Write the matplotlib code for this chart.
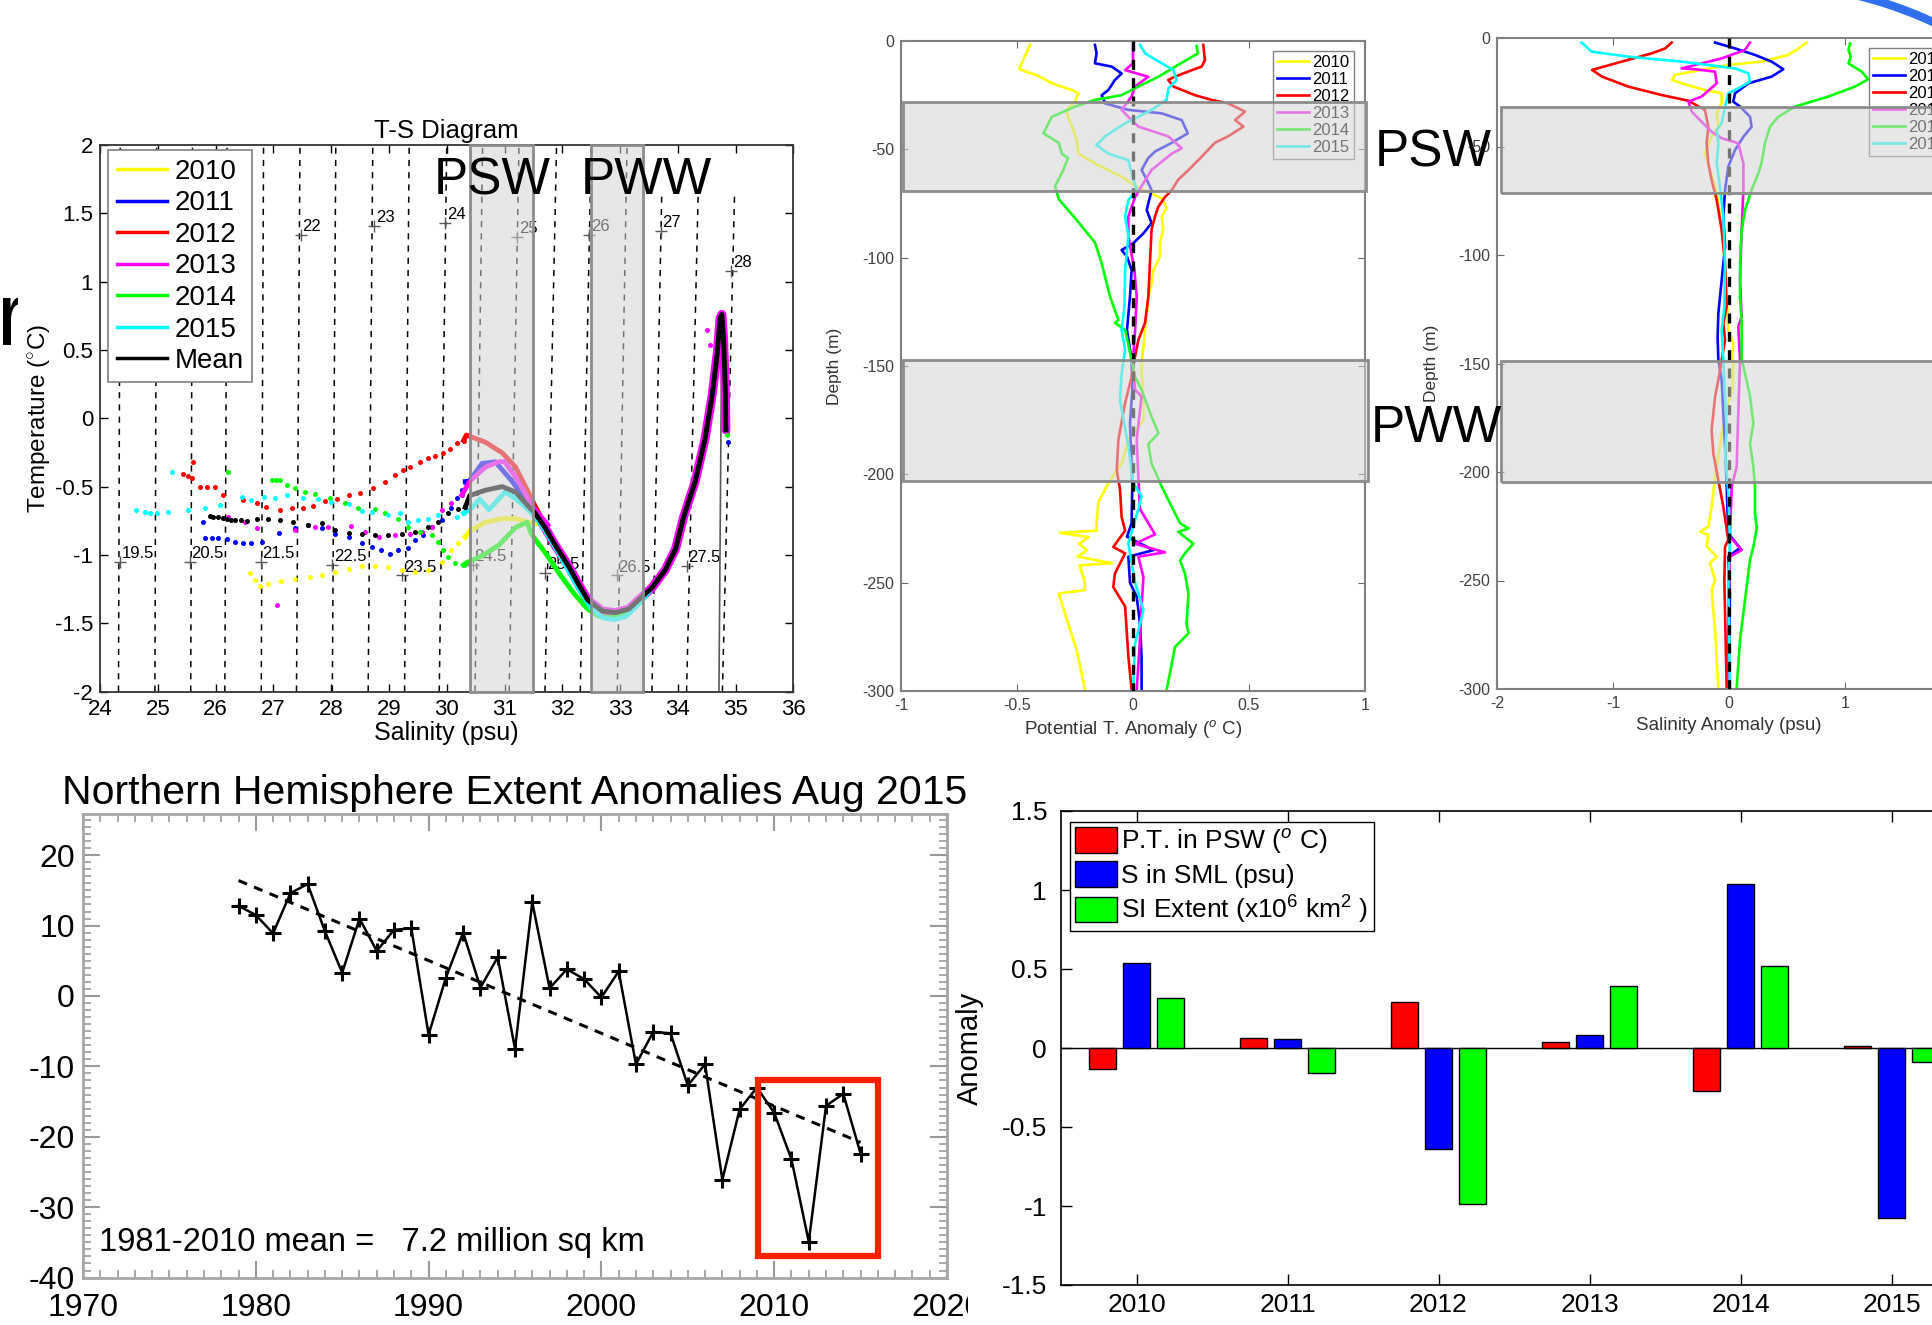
import numpy as np
import matplotlib
matplotlib.use("Agg")
import matplotlib.pyplot as plt
from matplotlib.patches import Rectangle, Arc
from matplotlib.lines import Line2D
from matplotlib.ticker import FuncFormatter, MultipleLocator

plt.rcParams['font.family'] = ['Liberation Sans', 'DejaVu Sans']
plt.rcParams['axes.unicode_minus'] = False
plt.rcParams['mathtext.fontset'] = 'custom'
plt.rcParams['mathtext.rm'] = 'Liberation Sans'
plt.rcParams['mathtext.it'] = 'Liberation Sans:italic'

W, H = 1933, 1325

# ---------------- data ----------------
years = ['2010', '2011', '2012', '2013', '2014', '2015']
yr_colors = ['#ffff00', '#0000ff', '#ff0000', '#ff00ff', '#00ff00', '#00ffff']

# T-S diagram: shallow dots (S, T)
ts10_dots = [(26.6, -1.13), (26.68, -1.183), (26.77, -1.227), (26.91, -1.212), (27.14, -1.188), (27.37, -1.178),
             (27.63, -1.164), (27.84, -1.147), (28.07, -1.122), (28.3, -1.105), (28.53, -1.081), (28.76, -1.081),
             (28.99, -1.091), (29.22, -1.11), (29.45, -1.122), (29.68, -1.11), (29.91, -1.049), (30.08, -0.964),
             (30.2, -0.915), (30.32, -0.866)]
ts11_dots = [(25.79, -0.756), (25.82, -0.878), (25.93, -0.878), (26.05, -0.873), (26.19, -0.886), (26.34, -0.903),
             (26.48, -0.915), (26.62, -0.91), (26.8, -0.903), (27.09, -0.837), (27.37, -0.805), (27.6, -0.781),
             (27.84, -0.805), (28.07, -0.846), (28.3, -0.866), (28.53, -0.915), (28.7, -0.939), (28.87, -0.964),
             (29.02, -0.993), (29.16, -0.964), (29.33, -0.952), (29.45, -0.891), (29.59, -0.854), (29.74, -0.793),
             (29.91, -0.744), (30.08, -0.659), (30.17, -0.585), (30.26, -0.524), (30.32, -0.463), (34.86, -0.17)]
ts12_dots = [(25.61, -0.317), (25.44, -0.41), (25.52, -0.425), (25.59, -0.44), (25.73, -0.5), (25.85, -0.505),
             (25.99, -0.5), (26.13, -0.56), (26.48, -0.598), (26.71, -0.617), (26.88, -0.646), (27.11, -0.671),
             (27.32, -0.658), (27.52, -0.654), (27.69, -0.641), (27.89, -0.603), (28.1, -0.593), (28.3, -0.561),
             (28.5, -0.544), (28.73, -0.512), (28.93, -0.463), (29.1, -0.415), (29.25, -0.378), (29.36, -0.354),
             (29.54, -0.317), (29.68, -0.293), (29.8, -0.275), (29.94, -0.251), (30.06, -0.226), (30.17, -0.183),
             (30.29, -0.163)]
ts13_dots = [(26.22, -0.724), (26.51, -0.756), (26.71, -0.805), (27.37, -0.817), (27.72, -0.793), (27.95, -0.793),
             (28.35, -0.788), (28.58, -0.83), (28.82, -0.866), (29.1, -0.854), (29.36, -0.846), (29.57, -0.83),
             (29.74, -0.793), (29.91, -0.671), (30.08, -0.622), (30.26, -0.561), (27.06, -1.366), (34.5, 0.643),
             (34.56, 0.539)]
ts14_dots = [(26.22, -0.39), (26.97, -0.451), (27.04, -0.451), (27.11, -0.451), (27.23, -0.488), (27.37, -0.512),
             (27.55, -0.537), (27.72, -0.554), (27.98, -0.585), (28.24, -0.622), (28.47, -0.658), (28.76, -0.666),
             (28.93, -0.695), (29.16, -0.739), (29.33, -0.793), (29.54, -0.83), (29.74, -0.854), (29.85, -0.903),
             (29.94, -0.964), (30.03, -1.013), (30.14, -1.057), (30.29, -1.074), (34.85, -0.12)]
ts15_dots = [(24.63, -0.671), (24.78, -0.683), (24.87, -0.695), (24.98, -0.695), (25.18, -0.683), (25.24, -0.39),
             (25.53, -0.671), (25.82, -0.66), (26.08, -0.634), (26.45, -0.578), (26.62, -0.598), (26.83, -0.573),
             (27.03, -0.585), (27.23, -0.561), (27.52, -0.585), (27.78, -0.593), (28.0, -0.61), (28.3, -0.627),
             (28.53, -0.676), (28.7, -0.683), (28.99, -0.708), (29.19, -0.695), (29.33, -0.756), (29.51, -0.744),
             (29.68, -0.739), (29.85, -0.708), (30.03, -0.695), (30.17, -0.72), (30.29, -0.695)]
ts_mean_dots = [(25.9, -0.715), (25.95, -0.72), (26.05, -0.724), (26.12, -0.73), (26.19, -0.739), (26.27, -0.742),
                (26.34, -0.744), (26.44, -0.746), (26.54, -0.749), (26.71, -0.739), (26.91, -0.739), (27.11, -0.744),
                (27.34, -0.756), (27.6, -0.781), (27.84, -0.769), (28.07, -0.818), (28.3, -0.837), (28.53, -0.846),
                (28.76, -0.854), (28.99, -0.854), (29.22, -0.846), (29.45, -0.83), (29.68, -0.793), (29.85, -0.756),
                (30.03, -0.695), (30.2, -0.666), (30.32, -0.651)]

# T-S diagram: dense (line) parts
ts10_line = [(30.32, -0.866), (30.4, -0.825), (30.67, -0.76), (30.96, -0.734), (31.19, -0.734), (31.41, -0.76),
             (31.53, -0.77)]
ts11_line = [(30.32, -0.463), (30.39, -0.46), (30.61, -0.331), (30.84, -0.318), (31.13, -0.461), (31.41, -0.62),
             (31.53, -0.69)]
ts12_line = [(30.29, -0.163), (30.34, -0.123), (30.67, -0.175), (30.96, -0.253), (31.19, -0.357), (31.41, -0.539),
             (31.53, -0.643), (31.7, -0.78)]
ts13_line = [(30.26, -0.561), (30.4, -0.46), (30.67, -0.357), (30.9, -0.318), (31.0, -0.318), (31.2, -0.435),
             (31.41, -0.59), (31.53, -0.67), (31.75, -0.78)]
ts14_line = [(30.29, -1.074), (30.34, -1.058), (30.61, -1.006), (30.9, -0.929), (31.19, -0.799), (31.39, -0.76),
             (31.47, -0.851), (31.7, -0.981), (31.99, -1.162), (32.22, -1.292), (32.44, -1.396), (32.63, -1.448),
             (32.85, -1.46), (33.1, -1.42), (33.35, -1.33)]
ts15_line = [(30.29, -0.695), (30.4, -0.669), (30.57, -0.591), (30.73, -0.669), (31.01, -0.539), (31.2, -0.591),
             (31.41, -0.669), (31.53, -0.72), (31.7, -0.82), (31.9, -0.96), (32.1, -1.11), (32.3, -1.26),
             (32.5, -1.39), (32.7, -1.46), (32.9, -1.474), (33.1, -1.45), (33.3, -1.37), (33.5, -1.27)]
ts_mean_line = [(30.32, -0.651), (30.4, -0.565), (30.67, -0.526), (30.96, -0.5), (31.19, -0.539), (31.41, -0.643)]
ts_deep = [(31.41, -0.643), (31.53, -0.695), (31.7, -0.8), (31.88, -0.93), (32.11, -1.084), (32.28, -1.214),
           (32.44, -1.33), (32.69, -1.41), (32.92, -1.422), (33.15, -1.396), (33.35, -1.318), (33.55, -1.24),
           (33.78, -1.11), (33.96, -0.955), (34.1, -0.72), (34.3, -0.46), (34.47, -0.149), (34.59, 0.162),
           (34.68, 0.474), (34.73, 0.734), (34.76, 0.76), (34.79, 0.578), (34.82, 0.214), (34.83, -0.084)]
ts_bottom_line = [(34.76, 0.76), (34.71, -2.0)]

# isopycnals
iso_sigma = [19.5, 20, 20.5, 21, 21.5, 22, 22.5, 23, 23.5, 24, 24.5, 25, 25.5, 26, 26.5, 27, 27.5, 28]
iso_s_bottom = [24.32, 24.95, 25.57, 26.16, 26.79, 27.4, 28.02, 28.64, 29.27, 29.87, 30.49, 31.08, 31.7, 32.31,
                32.95, 33.55, 34.15, 34.77]
iso_s_top = [24.35, 24.98, 25.6, 26.2, 26.83, 27.46, 28.08, 28.72, 29.35, 30.0, 30.62, 31.25, 31.9, 32.5, 33.12,
             33.72, 34.35, 34.98]
iso_t_top = [2, 2, 2, 2, 2, 2, 2, 2, 2, 2, 2, 2, 2, 2, 2, 1.64, 1.64, 1.64]
lbl_sigma = ['19.5', '20.5', '21.5', '22.5', '23.5', '24.5', '25.5', '26.5', '27.5', '22', '23', '24', '25', '26',
             '27', '28']
lbl_s = [24.34, 25.55, 26.78, 28.02, 29.23, 30.45, 31.7, 32.94, 34.15, 27.47, 28.74, 29.97, 31.22, 32.47, 33.7, 34.92]
lbl_t = [-1.05, -1.05, -1.05, -1.07, -1.15, -1.07, -1.13, -1.15, -1.08, 1.34, 1.41, 1.43, 1.33, 1.34, 1.37, 1.08]

# potential temperature anomaly profiles (anomaly, depth)
pt10 = [(-0.444, -1.8), (-0.48, -10.3), (-0.49, -13), (-0.41, -16), (-0.35, -19.5), (-0.265, -22.6), (-0.236, -24),
        (-0.25, -28), (-0.286, -31.8), (-0.28, -35), (-0.257, -41), (-0.243, -45.7), (-0.236, -52), (-0.164, -56.5),
        (-0.049, -62.6), (0.01, -67), (0.124, -72.6), (0.145, -77), (0.124, -81), (0.13, -87), (0.116, -93.4),
        (0.116, -99.5), (0.088, -105.7), (0.08, -112), (0.066, -118), (0.059, -127), (0.052, -133), (0.045, -141),
        (0.037, -148.8), (0.037, -151.8), (0.045, -165.7), (0.045, -175), (-0.02, -184), (-0.049, -195),
        (-0.106, -204), (-0.15, -213), (-0.157, -222.6), (-0.157, -226), (-0.315, -227), (-0.19, -229),
        (-0.233, -232), (-0.198, -235), (-0.24, -238), (-0.09, -241), (-0.23, -242), (-0.21, -249),
        (-0.207, -253.4), (-0.32, -255), (-0.28, -268.8), (-0.243, -281), (-0.207, -299.5)]
pt11 = [(-0.164, -1.8), (-0.157, -5.7), (-0.164, -10.3), (-0.092, -11.8), (-0.049, -15), (-0.078, -18),
        (-0.106, -22.6), (-0.135, -25), (-0.12, -28.8), (-0.02, -31.8), (0.124, -33.4), (0.21, -36.5),
        (0.236, -42.6), (0.167, -47), (0.095, -51), (0.066, -54), (0.037, -59.5), (0.059, -64), (0.08, -68.8),
        (0.073, -72), (0.059, -78), (0.08, -84), (0.045, -88.8), (0.0, -93.4), (-0.049, -96.5), (-0.026, -99.5),
        (-0.006, -105.7), (-0.013, -118), (-0.026, -133.4), (-0.006, -147.2), (-0.003, -161), (-0.013, -176.5),
        (-0.003, -204), (-0.006, -222.6), (-0.026, -228.8), (0.088, -235), (-0.02, -238), (-0.013, -250),
        (0.016, -256.5), (0.03, -268.8), (0.037, -284), (0.037, -299.5)]
pt12 = [(0.303, -1.8), (0.31, -8.8), (0.296, -11.8), (0.24, -14), (0.18, -16.5), (0.152, -18), (0.174, -21),
        (0.267, -25), (0.339, -27.2), (0.41, -28.8), (0.483, -32.6), (0.44, -36.5), (0.476, -39.5), (0.41, -44),
        (0.353, -47), (0.296, -53.4), (0.24, -59.5), (0.195, -64), (0.167, -68.8), (0.138, -72), (0.109, -76.5),
        (0.095, -81), (0.08, -87), (0.073, -102.6), (0.066, -118), (0.052, -130), (0.023, -138), (0.006, -147.2),
        (-0.006, -155), (-0.034, -167), (-0.063, -184), (-0.07, -198), (-0.056, -207), (-0.049, -219.7),
        (-0.034, -226), (-0.085, -233.5), (-0.034, -236.5), (-0.078, -245.8), (-0.085, -252), (-0.034, -261),
        (-0.02, -284), (-0.006, -299.5)]
pt13 = [(0, -1.8), (0, -10.3), (-0.034, -13.4), (0.066, -16.5), (0.009, -21), (-0.006, -25.7), (-0.049, -31.8),
        (-0.02, -35), (0.023, -39.5), (0.066, -41), (0.152, -44), (0.21, -49.5), (0.167, -52), (0.08, -59.5),
        (0.037, -67), (0.009, -72), (-0.02, -81), (-0.02, -90), (0.006, -105.7), (0.016, -118), (0.009, -133.4),
        (0, -147.2), (0.009, -161), (0.037, -164), (0.016, -184), (0.023, -201), (0.03, -216), (0.095, -227.7),
        (0.009, -232), (0.138, -236), (0.023, -238), (0.045, -247.4), (0.037, -261), (0.03, -276.5),
        (0.016, -299.5)]
pt14 = [(0.274, -2.3), (0.28, -5.7), (0.195, -11), (0.11, -16.5), (0.023, -21), (-0.049, -25), (-0.164, -27.2),
        (-0.25, -30.3), (-0.35, -35), (-0.386, -42.6), (-0.32, -47), (-0.307, -52), (-0.28, -54), (-0.30, -59.5),
        (-0.336, -67), (-0.32, -73), (-0.243, -82.6), (-0.164, -93), (-0.135, -102.6), (-0.099, -118),
        (-0.063, -128.8), (-0.078, -130), (-0.034, -133.4), (-0.006, -147.2), (0.009, -155), (0.037, -161),
        (0.08, -173.4), (0.11, -181), (0.066, -186), (0.08, -195), (0.124, -205.7), (0.167, -215), (0.203, -222.6),
        (0.24, -225), (0.195, -226.5), (0.26, -232), (0.224, -236.5), (0.203, -239.7), (0.224, -245.8),
        (0.239, -255), (0.231, -268.8), (0.239, -273.4), (0.181, -279.7), (0.145, -299.5)]
pt15 = [(0.03, -1.8), (0.052, -5.7), (0.124, -10.3), (0.174, -13.4), (0.188, -18), (0.152, -22), (0.145, -27.2),
        (0.08, -31.8), (0.023, -35), (-0.034, -38), (-0.078, -41), (-0.12, -44), (-0.157, -48), (-0.106, -52),
        (-0.02, -55), (-0.006, -61), (0.016, -68.8), (-0.02, -73.4), (-0.034, -81), (-0.02, -90), (-0.034, -105.7),
        (-0.037, -122.6), (-0.049, -133.4), (-0.034, -142.6), (-0.049, -153.4), (-0.056, -165.7), (-0.02, -187),
        (0.001, -204), (0.037, -210), (0.023, -216), (-0.02, -232), (0.009, -250), (0.045, -262.6), (0.009, -278),
        (0.001, -299.5)]

# salinity anomaly profiles (anomaly, depth)
sa10 = [(0.67, -2.1), (0.583, -5.5), (0.51, -7.8), (0.28, -10.9), (-0.006, -12.4), (-0.236, -14.7), (-0.466, -17),
        (-0.49, -19.4), (-0.408, -20.9), (-0.207, -24), (-0.063, -25.5), (-0.063, -30), (-0.106, -34.7),
        (-0.092, -40.9), (-0.15, -45.5), (-0.207, -53), (-0.164, -60.8), (-0.12, -68.5), (-0.092, -76),
        (-0.063, -88.5), (-0.034, -103.8), (-0.02, -119), (-0.006, -134.6), (0.037, -140.7), (0.029, -148.4),
        (0.037, -149.9), (0.029, -162), (-0.034, -173), (-0.078, -188), (-0.12, -202), (-0.15, -216),
        (-0.178, -225.2), (-0.25, -227.5), (-0.178, -229), (-0.193, -234.4), (-0.106, -239), (-0.164, -242),
        (-0.12, -249.8), (-0.15, -254.4), (-0.12, -273), (-0.092, -299.7)]
sa11 = [(-0.12, -2.1), (0.052, -4.8), (0.224, -7.8), (0.368, -10.9), (0.468, -14.4), (0.368, -17.8), (0.167, -20.9),
        (0.052, -25.5), (0.037, -29.3), (0.095, -31.6), (0.181, -36.3), (0.195, -40.9), (0.124, -45.5),
        (0.052, -51.6), (-0.006, -59.3), (-0.034, -70), (-0.049, -82.3), (-0.034, -96.2), (-0.063, -111.5),
        (-0.092, -127), (-0.098, -137.6), (-0.092, -148.4), (-0.063, -157.6), (-0.049, -173), (-0.034, -188.3),
        (-0.02, -206.8), (-0.006, -228.3), (0.095, -235), (-0.006, -239), (0.008, -257.5), (-0.006, -299.7)]
sa12 = [(-0.494, -2.1), (-0.55, -4.8), (-0.667, -7.1), (-0.925, -10.9), (-1.18, -14.7), (-1.095, -17.8),
        (-0.868, -22.4), (-0.58, -26.3), (-0.35, -28.9), (-0.207, -33.2), (-0.178, -40.9), (-0.193, -48.5),
        (-0.178, -57.8), (-0.15, -65.4), (-0.106, -74.6), (-0.063, -88.5), (-0.034, -103.8), (-0.02, -123.8),
        (-0.049, -131.5), (-0.034, -139.2), (-0.063, -148.4), (-0.092, -157.6), (-0.12, -165.3), (-0.15, -180.6),
        (-0.135, -191.5), (-0.092, -203.7), (-0.049, -216), (-0.006, -231.3), (-0.034, -234.4), (-0.04, -249.8),
        (-0.034, -265), (-0.02, -299.7)]
sa13 = [(0.181, -2.1), (0.138, -5.5), (-0.063, -9.4), (-0.408, -14), (-0.293, -14.4), (-0.12, -15.5),
        (-0.106, -20.9), (-0.236, -27), (-0.35, -29.3), (-0.32, -34), (-0.236, -38.6), (-0.15, -43.2),
        (-0.063, -46.2), (0.08, -48.5), (0.124, -57.8), (0.124, -70), (0.109, -88.5), (0.095, -111.5),
        (0.109, -128.4), (0.08, -133), (0.095, -148.4), (0.08, -173), (0.066, -197.6), (0.023, -206.8),
        (0.008, -229.8), (0.109, -236), (0.008, -239), (-0.006, -265), (-0.006, -299.7)]
sa14 = [(1.043, -2.5), (1.03, -5.5), (1.05, -8.6), (1.03, -11.7), (1.144, -15.5), (1.2, -19), (1.086, -22.4),
        (0.856, -27), (0.569, -31.6), (0.425, -36.3), (0.353, -40.9), (0.31, -48.5), (0.28, -57.8), (0.253, -62.4),
        (0.195, -70), (0.138, -79.3), (0.109, -88.5), (0.095, -103.8), (0.095, -119), (0.109, -130),
        (0.109, -148.4), (0.138, -154.5), (0.181, -165), (0.21, -177.6), (0.181, -186.8), (0.21, -197.6),
        (0.224, -206.8), (0.224, -219), (0.24, -226), (0.21, -234.4), (0.181, -240.6), (0.152, -252.9),
        (0.124, -265), (0.095, -277.5), (0.066, -299.7)]
sa15 = [(-1.27, -2.1), (-1.184, -6.3), (-0.868, -8.6), (-0.408, -10.9), (0.052, -14), (0.167, -16.3),
        (0.181, -20.1), (0.08, -23.2), (-0.006, -25.5), (-0.034, -31.6), (-0.063, -39.3), (-0.106, -42.4),
        (-0.092, -48.5), (-0.106, -57.8), (-0.078, -68.5), (-0.049, -82.3), (-0.034, -103.8), (-0.04, -123.8),
        (-0.063, -134.6), (-0.049, -148.4), (-0.034, -165.3), (-0.02, -180.6), (-0.034, -191.5), (-0.006, -209.8),
        (0.008, -231.3), (-0.006, -249.8), (0.008, -299.7)]

pt_psw_band = (-69.2, -28.0)
pt_pww_band = (-203.0, -147.2)
sa_psw_band = (-71.3, -31.6)
sa_pww_band = (-204.6, -148.8)

# sea ice extent anomalies (%)
nh_years = list(range(1979, 2016))
nh_anom = [12.8, 11.5, 8.9, 14.6, 15.9, 9.2, 3.3, 11.0, 6.4, 9.4, 9.6, -5.5, 2.6, 9.0, 1.2, 5.5, -7.5, 13.3, 1.1,
           3.8, 2.4, -0.2, 3.5, -9.7, -5.1, -5.3, -12.7, -9.7, -26.1, -16.1, -13.0, -16.6, -23.2, -34.9, -15.6,
           -13.9, -22.4]
trend_years = [1979, 2015]
trend_vals = [16.4, -20.8]
box_years = (2009.05, 2016.0)
box_vals = (-36.9, -12.0)

# bar chart anomalies
bar_years = [2010, 2011, 2012, 2013, 2014, 2015]
bar_pt_psw = [-0.13, 0.066, 0.29, 0.035, -0.275, 0.01]
bar_s_sml = [0.54, 0.057, -0.64, 0.08, 1.035, -1.075]
bar_si_ext = [0.317, -0.16, -0.99, 0.39, 0.52, -0.086]

# ---------------- figure ----------------
fig = plt.figure(figsize=(W / 100, H / 100), dpi=100)
fig.patch.set_facecolor('white')


def px_axes(l, t, r, b):
    return fig.add_axes([l / W, 1 - b / H, (r - l) / W, (b - t) / H])


def gfmt(v, pos):
    return '%g' % v


def xy(pairs):
    a = np.array(pairs, dtype=float)
    return a[:, 0], a[:, 1]


def band(ax, x0, x1, y0, y1):
    ax.add_patch(Rectangle((x0, y0), x1 - x0, y1 - y0, facecolor='0.83', alpha=0.55,
                           edgecolor='none', zorder=6, clip_on=False))
    ax.add_patch(Rectangle((x0, y0), x1 - x0, y1 - y0, fill=False, edgecolor='0.55',
                           lw=2, zorder=6.1, clip_on=False))


# big cropped letter at the far left
fig.text(-3 / W, 1 - 345 / H, 'r', fontsize=64, ha='left', va='baseline', zorder=0.2)
fig.add_artist(Rectangle((18 / W, 1 - 760 / H), 82 / W, 660 / H, transform=fig.transFigure,
                         facecolor='white', edgecolor='none', zorder=0.3))

# ---- T-S diagram ----
ax = px_axes(100, 145, 793.5, 691.6)
ax.set_zorder(5)
ax.set_xlim(24, 36)
ax.set_ylim(-2, 2)
for sb, st, tt in zip(iso_s_bottom, iso_s_top, iso_t_top):
    ax.plot([sb, st], [-2, tt], color='k', lw=1.1, ls=(0, (4, 4)), zorder=1)
ax.plot(lbl_s, lbl_t, '+', color='0.35', ms=9, mew=1, ls='none', zorder=1.5)
for s, t, lab in zip(lbl_s, lbl_t, lbl_sigma):
    ax.text(s + 0.03, t + 0.06, lab, fontsize=12, ha='left', va='center', zorder=1.5)

dots_all = [ts10_dots, ts11_dots, ts12_dots, ts13_dots, ts14_dots, ts15_dots]
lines_all = [ts10_line, ts11_line, ts12_line, ts13_line, ts14_line, ts15_line]
ds, dt = xy(ts_deep)
ax.plot(ds, dt, color='#ff00ff', lw=6.5, zorder=2.5, solid_capstyle='round')
for dots, line, c in zip(dots_all, lines_all, yr_colors):
    s, t = xy(dots)
    ax.plot(s, t, 'o', color=c, ms=3.6, mec='none', ls='none', zorder=3)
    s, t = xy(line)
    ax.plot(s, t, '-', color=c, lw=3.5, zorder=3)
s, t = xy(ts_mean_dots)
ax.plot(s, t, 'o', color='k', ms=3.6, mec='none', ls='none', zorder=4)
s, t = xy(ts_mean_line + ts_deep)
ax.plot(s, t, '-', color='k', lw=3.5, zorder=4)
s, t = xy(ts_bottom_line)
ax.plot(s, t, '-', color='0.35', lw=1.2, zorder=2)

handles = [Line2D([], [], color=c, lw=2.5) for c in yr_colors] + [Line2D([], [], color='k', lw=2.5)]
leg = ax.legend(handles, years + ['Mean'], loc='upper left', bbox_to_anchor=(0.012, 0.99), fontsize=20,
                handlelength=1.8, handletextpad=0.3, labelspacing=0.2, borderpad=0.3, borderaxespad=0,
                fancybox=False, edgecolor='0.5', framealpha=1)
leg.get_frame().set_linewidth(1.2)
band(ax, 30.4, 31.5, -2, 2)
band(ax, 32.5, 33.4, -2, 2)
ax.text(30.78, 1.74, 'PSW', fontsize=37, ha='center', va='center', zorder=8)
ax.text(33.46, 1.74, 'PWW', fontsize=37, ha='center', va='center', zorder=8)
ax.set_xticks(range(24, 37))
ax.set_yticks(np.arange(-2, 2.01, 0.5))
ax.xaxis.set_major_formatter(FuncFormatter(gfmt))
ax.yaxis.set_major_formatter(FuncFormatter(gfmt))
ax.tick_params(direction='in', top=True, right=True, labelsize=16, length=6, width=1, pad=5)
for sp in ax.spines.values():
    sp.set_color('0.2')
    sp.set_linewidth(1.3)
ax.set_title('T-S Diagram', fontsize=18.5, pad=5)
ax.set_xlabel('Salinity (psu)', fontsize=18, labelpad=1)
ax.set_ylabel('Temperature ($^{\\circ}$C)', fontsize=17.5, labelpad=2)


# ---- profile panels ----
def profile_panel(ax, profiles, xlim, xticks, psw, pww, band_x0, xlabel, lab_x):
    for prof, c, y in zip(profiles, yr_colors, years):
        a, d = xy(prof)
        ax.plot(a, d, color=c, lw=1.9, label=y, zorder=2)
    ax.plot([0, 0], [0, -300], color='k', lw=2.4, ls=(0, (3, 2.5)), zorder=3)
    ax.set_xlim(*xlim)
    ax.set_ylim(-300, 0)
    lg = ax.legend(loc='upper left', bbox_to_anchor=(0.802, 0.985), fontsize=12, labelspacing=0.12,
                   handlelength=1.9, handletextpad=0.2, borderpad=0.25, borderaxespad=0,
                   fancybox=False, edgecolor='0.5', framealpha=1)
    lg.set_zorder(5)
    band(ax, band_x0, xlim[1] + 0.002 * (xlim[1] - xlim[0]), psw[0], psw[1])
    band(ax, band_x0, xlim[1] + 0.006 * (xlim[1] - xlim[0]), pww[0], pww[1])
    ax.set_xticks(xticks)
    ax.set_yticks(range(-300, 1, 50))
    ax.xaxis.set_major_formatter(FuncFormatter(gfmt))
    ax.yaxis.set_major_formatter(FuncFormatter(gfmt))
    ax.tick_params(direction='in', top=True, right=True, labelsize=11.5, labelcolor='0.25',
                   color='0.4', length=5, pad=5)
    for sp in ax.spines.values():
        sp.set_color('0.5')
        sp.set_linewidth(1.5)
    ax.set_xlabel(xlabel, fontsize=13.5, color='0.2', labelpad=4)
    ax.set_ylabel('Depth (m)', fontsize=12.5, color='0.2')
    ax.yaxis.set_label_coords(lab_x, 0.5)


ax2 = px_axes(901, 41, 1365, 691)
profile_panel(ax2, [pt10, pt11, pt12, pt13, pt14, pt15], (-1, 1), [-1, -0.5, 0, 0.5, 1],
              pt_psw_band, pt_pww_band, -0.99, 'Potential T. Anomaly ($^{o}$ C)', -0.127)

ax3 = px_axes(1497, 38, 1961, 689)
profile_panel(ax3, [sa10, sa11, sa12, sa13, sa14, sa15], (-2, 2), [-2, -1, 0, 1, 2],
              sa_psw_band, sa_pww_band, -1.965, 'Salinity Anomaly (psu)', -0.125)

fig.text(1433 / W, 1 - 153 / H, 'PSW', fontsize=37, ha='center', va='center', zorder=10)
fig.text(1436 / W, 1 - 428 / H, 'PWW', fontsize=37, ha='center', va='center', zorder=10)

# ---- NH extent anomalies ----
ax4 = px_axes(83, 814, 947, 1278)
ax4.set_zorder(0)
ax4.plot(nh_years, nh_anom, color='k', lw=1.8, marker='+', ms=11, mew=2.2, zorder=3)
ax4.plot(trend_years, trend_vals, color='k', lw=2.2, ls=(0, (3, 2.5)), zorder=2)
ax4.add_patch(Rectangle((box_years[0], box_vals[0]), box_years[1] - box_years[0], box_vals[1] - box_vals[0],
                        fill=False, edgecolor='#ff2200', lw=4.5, zorder=4, clip_on=False))
ax4.text(1970.9, -35.0, '1981-2010 mean =   7.2 million sq km', fontsize=23.5, ha='left', va='center')
ax4.set_xlim(1970, 2020)
ax4.set_ylim(-40.06, 25.85)
ax4.set_xticks(range(1970, 2021, 10))
ax4.set_yticks(range(-40, 21, 10))
ax4.xaxis.set_minor_locator(MultipleLocator(1))
ax4.yaxis.set_minor_locator(MultipleLocator(1))
ax4.yaxis.set_major_formatter(FuncFormatter(gfmt))
ax4.tick_params(which='both', direction='in', top=True, right=True, color='0.6')
ax4.tick_params(which='major', length=12, width=1.5, labelsize=23)
ax4.tick_params(which='minor', length=6, width=1.2)
ax4.tick_params(axis='x', which='major', pad=11)
ax4.tick_params(axis='y', which='major', pad=6)
for sp in ax4.spines.values():
    sp.set_color('0.65')
    sp.set_linewidth(2)
ax4.set_title('Northern Hemisphere Extent Anomalies Aug 2015', fontsize=29.5, pad=7)

# white background of the bar-chart panel (crops the last x label on the left)
fig.add_artist(Rectangle((968 / W, 0), (W - 968) / W, (H - 760) / H, transform=fig.transFigure,
                         facecolor='white', edgecolor='none', zorder=0.5))

# ---- bar chart ----
ax5 = px_axes(1061, 811, 1967, 1285)
ax5.set_zorder(1)
xb = np.array(bar_years, dtype=float)
bw = 0.175
ax5.bar(xb - 0.225, bar_pt_psw, bw, color='#ff0000', edgecolor='k', lw=1, label='P.T. in PSW ($^{o}$ C)')
ax5.bar(xb, bar_s_sml, bw, color='#0000ff', edgecolor='k', lw=1, label='S in SML (psu)')
ax5.bar(xb + 0.225, bar_si_ext, bw, color='#00ff00', edgecolor='k', lw=1,
        label='SI Extent (x10$^{6}$ km$^{2}$ )')
ax5.axhline(0, color='k', lw=1, zorder=0.5)
ax5.set_xlim(2009.5, 2015.5)
ax5.set_ylim(-1.5, 1.5)
ax5.set_xticks(bar_years)
ax5.set_yticks(np.arange(-1.5, 1.51, 0.5))
ax5.yaxis.set_major_formatter(FuncFormatter(gfmt))
ax5.tick_params(direction='in', top=True, right=True, labelsize=19, length=8, width=1)
ax5.tick_params(axis='x', pad=6)
ax5.tick_params(axis='y', pad=10)
for sp in ax5.spines.values():
    sp.set_color('k')
    sp.set_linewidth(1.2)
ax5.set_ylabel('Anomaly', fontsize=21)
ax5.yaxis.set_label_coords(-0.085, 0.5)
lg5 = ax5.legend(loc='upper left', bbox_to_anchor=(0.0099, 0.977), fontsize=19, handlelength=1.6,
                 handleheight=1.1, labelspacing=0.2, handletextpad=0.15, borderpad=0.2, borderaxespad=0,
                 fancybox=False, edgecolor='k', framealpha=1)
lg5.get_frame().set_linewidth(1)

# blue arc in the top right corner, drawn on a pixel-space overlay
ov = fig.add_axes([0, 0, 1, 1], zorder=20)
ov.set_xlim(0, W)
ov.set_ylim(H, 0)
ov.axis('off')
ov.patch.set_alpha(0)
ov.add_patch(Arc((1758, 400), 833, 833, theta1=-95, theta2=-40, color='#2f6ff0', lw=6))

fig.savefig('out.png', dpi=100, facecolor='white')
